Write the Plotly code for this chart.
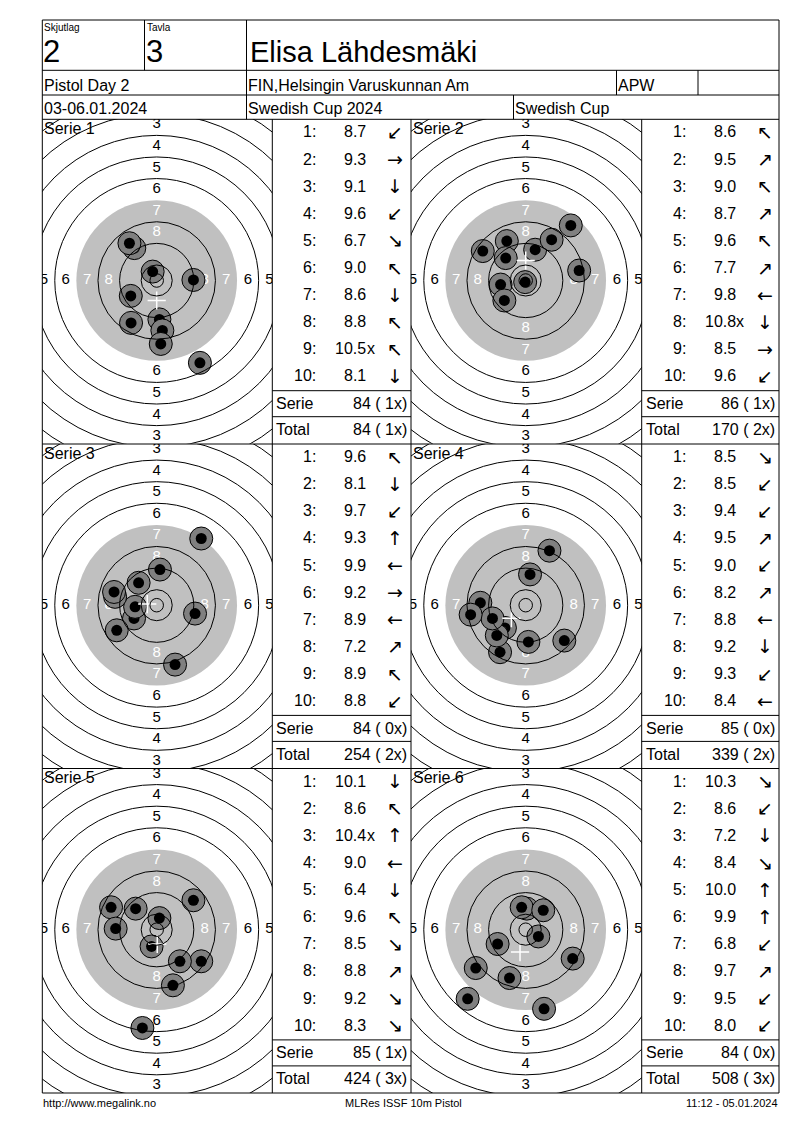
import plotly.graph_objects as go

# page header
relay_label, relay = "Skjutlag", "2"
lane_label, lane = "Tavla", "3"
shooter = "Elisa Lähdesmäki"
event = "Pistol Day 2"
club = "FIN,Helsingin Varuskunnan Am"
shooter_class = "APW"
dates = "03-06.01.2024"
competition = "Swedish Cup 2024"
cup = "Swedish Cup"
footer_left = "http://www.megalink.no"
footer_mid = "MLRes ISSF 10m Pistol"
footer_right = "11:12 - 05.01.2024"

# shots in firing order, mm from the centre (x right, y up)
s1_x = [-9.5, 13.6, 1.0, -9.6, 16.0, -8.3, 2.1, -10.1, -1.5, 1.5]
s1_y = [-15.7, 0.2, -14.4, -5.7, -30.5, 12.0, -18.5, 13.8, 3.3, -23.5]
s1_scores = ["8.7", "9.3", "9.1", "9.6", "6.7", "9.0", "8.6", "8.8", "10.5x", "8.1"]
s1_dirs = ["↙", "→", "↓", "↙", "↘", "↖", "↓", "↖", "↖", "↓"]

s2_x = [-15.9, 3.5, -7.0, 9.6, -7.4, 16.7, -9.3, -0.2, 19.8, -7.9]
s2_y = [10.9, 11.4, 14.6, 15.1, 8.3, 20.4, -1.5, -0.6, 3.7, -7.4]
s2_scores = ["8.6", "9.5", "9.0", "8.7", "9.6", "7.7", "9.8", "10.8x", "8.5", "9.6"]
s2_dirs = ["↖", "↗", "↖", "↗", "↖", "↗", "←", "↓", "→", "↙"]

s3_x = [-6.7, 6.8, -8.4, 1.2, -8.0, 14.2, -15.4, 16.5, -15.8, -14.8]
s3_y = [8.3, -22.0, -4.9, 13.2, -0.6, -3.1, 3.1, 24.7, 4.9, -9.3]
s3_scores = ["9.6", "8.1", "9.7", "9.3", "9.9", "9.2", "8.9", "7.2", "8.9", "8.8"]
s3_dirs = ["↖", "↓", "↙", "↑", "←", "→", "←", "↗", "↖", "↙"]

s4_x = [14.3, -9.5, -7.7, 1.6, -10.7, 8.8, -16.8, 1.0, -12.3, -20.4]
s4_y = [-13.1, -17.4, -8.4, 11.4, -11.2, 20.2, 0.9, -13.6, -4.9, -3.5]
s4_scores = ["8.5", "8.5", "9.4", "9.5", "9.0", "8.2", "8.8", "9.2", "9.3", "8.4"]
s4_dirs = ["↘", "↙", "↙", "↗", "↙", "↗", "←", "↓", "↙", "←"]

s5_x = [-1.9, -16.9, 1.0, -15.2, -5.3, -7.8, 16.5, 13.6, 8.6, 6.0]
s5_y = [-6.2, 8.3, 4.3, 0.4, -36.4, 7.8, -11.7, 10.9, -11.7, -20.6]
s5_scores = ["10.1", "8.6", "10.4x", "9.0", "6.4", "9.6", "8.5", "8.8", "9.2", "8.3"]
s5_dirs = ["↓", "↖", "↑", "←", "↓", "↖", "↘", "↗", "↘", "↘"]

s6_x = [4.7, -6.0, 6.8, 17.4, 0.4, -1.5, -21.5, 6.5, -10.4, -18.5]
s6_y = [-2.5, -17.9, -29.3, -10.7, 7.8, 8.3, -25.6, 7.2, -5.3, -14.2]
s6_scores = ["10.3", "8.6", "7.2", "8.4", "10.0", "9.9", "6.8", "9.7", "9.5", "8.0"]
s6_dirs = ["↘", "↙", "↓", "↘", "↑", "↑", "↙", "↗", "↙", "↙"]

# mean point of impact (white cross)
mpi_x = [0.0, 0.0, -3.5, -5.3, 0.2, -2.1]
mpi_y = [-7.4, 7.4, 0.4, -4.8, -5.3, -8.3]

serie_sum = [84, 86, 84, 85, 85, 84]
serie_inner = [1, 1, 0, 0, 1, 0]
total_sum = [84, 170, 254, 339, 424, 508]
total_inner = [1, 2, 2, 2, 3, 3]

# ISSF 10m air pistol target, outer ring radii in mm
ring_numbers = [10, 9, 8, 7, 6, 5, 4, 3, 2]
ring_radius = [5.75, 13.75, 21.75, 29.75, 37.75, 45.75, 53.75, 61.75, 69.75]
inner_ten = 2.5
label_rings = [3, 4, 5, 6, 7, 8]

series = [
    (s1_x, s1_y, s1_scores, s1_dirs),
    (s2_x, s2_y, s2_scores, s2_dirs),
    (s3_x, s3_y, s3_scores, s3_dirs),
    (s4_x, s4_y, s4_scores, s4_dirs),
    (s5_x, s5_y, s5_scores, s5_dirs),
    (s6_x, s6_y, s6_scores, s6_dirs),
]

# page geometry (browser pixels)
OFF = 8
W, H = 800 - 2 * OFF, 1130 - 2 * OFF - 2
FONT = "Liberation Sans, Arial, sans-serif"
SCALE = 2.7  # px per mm
LEFT, RIGHT, TOP = 42.3, 779.0, 20.0
row_tops = [119.3, 444.0, 768.5]
ROW_H = 324.5
tgt_x0 = [42.3, 411.0]
tgt_x1 = [272.3, 641.7]
tgt_cx = [156.7, 525.7]
CY = 161.2
tab_x1 = [411.0, 779.0]


def px(x):
    return (x - OFF) / W


def py(y):
    return 1 - (y - OFF) / H


shapes, annotations = [], []
LINE = dict(color="black", width=1)


def hline(y, x0, x1):
    shapes.append(dict(type="line", xref="paper", yref="paper", x0=px(x0), x1=px(x1),
                       y0=py(y), y1=py(y), line=LINE))


def vline(x, y0, y1):
    shapes.append(dict(type="line", xref="paper", yref="paper", x0=px(x), x1=px(x),
                       y0=py(y0), y1=py(y1), line=LINE))


def text(x, y, s, size=16, anchor="left", color="black", family=FONT):
    annotations.append(dict(xref="paper", yref="paper", x=px(x), y=py(y), text=s,
                            showarrow=False, xanchor=anchor, yanchor="middle",
                            borderpad=0, font=dict(size=size, color=color, family=family)))


bottom = row_tops[-1] + ROW_H

# frame and header grid
shapes.append(dict(type="rect", xref="paper", yref="paper", x0=px(LEFT), x1=px(RIGHT),
                   y0=py(bottom), y1=py(TOP), line=LINE))
for y in [70.3, 95.0, 119.3, row_tops[1], row_tops[2]]:
    hline(y, LEFT, RIGHT)
vline(144.5, TOP, 70.3)
vline(246.5, TOP, 119.3)
vline(616.5, 70.3, 95.0)
vline(698.0, 70.3, 95.0)
vline(513.5, 95.0, 119.3)
for x in [272.3, 411.0, 641.7]:
    vline(x, 119.3, bottom)

text(43, 27, relay_label, size=10)
text(146, 27, lane_label, size=10)
text(42, 52, relay, size=31)
text(145, 52, lane, size=31)
text(249, 52, shooter, size=29)
text(43, 85, event)
text(247, 85, club)
text(617, 85, shooter_class)
text(43, 108, dates)
text(247, 108, competition)
text(514, 108, cup)
text(LEFT, 1103, footer_left, size=11)
text(403, 1103, footer_mid, size=11, anchor="center")
text(RIGHT, 1103, footer_right, size=11, anchor="right")

fig = go.Figure()
layout_axes = {}

for k, (sx, sy, scores, dirs) in enumerate(series):
    row, col = divmod(k, 2)
    n = k + 1
    xa, ya = ("x", "y") if n == 1 else (f"x{n}", f"y{n}")
    top = row_tops[row]
    cyp = top + CY
    layout_axes["xaxis" if n == 1 else f"xaxis{n}"] = dict(
        domain=[px(tgt_x0[col]), px(tgt_x1[col])],
        range=[(tgt_x0[col] - tgt_cx[col]) / SCALE, (tgt_x1[col] - tgt_cx[col]) / SCALE],
        visible=False, fixedrange=True, anchor=ya)
    layout_axes["yaxis" if n == 1 else f"yaxis{n}"] = dict(
        domain=[py(top + ROW_H), py(top)],
        range=[-(top + ROW_H - cyp) / SCALE, (cyp - top) / SCALE],
        visible=False, fixedrange=True, anchor=xa)

    # black (grey) aiming area, then ring lines over the shots
    r7 = ring_radius[ring_numbers.index(7)]
    shapes.append(dict(type="circle", xref=xa, yref=ya, x0=-r7, x1=r7, y0=-r7, y1=r7,
                       fillcolor="#c0c0c0", line=dict(width=0), layer="below"))
    for num, r in zip(ring_numbers, ring_radius):
        if num == 7:
            continue
        shapes.append(dict(type="circle", xref=xa, yref=ya, x0=-r, x1=r, y0=-r, y1=r,
                           line=LINE, layer="above"))
    shapes.append(dict(type="circle", xref=xa, yref=ya, x0=-inner_ten, x1=inner_ten,
                       y0=-inner_ten, y1=inner_ten, line=LINE, layer="above"))

    # ring numbers
    lx, ly, lt, lc = [], [], [], []
    for num in label_rings:
        i = ring_numbers.index(num)
        mid = (ring_radius[i] + ring_radius[i - 1]) / 2
        colr = "white" if num >= 7 else "black"
        for dx, dy in [(0, 1), (0, -1)]:
            lx.append(dx * mid); ly.append(dy * mid); lt.append(str(num)); lc.append(colr)
        if num >= 5:
            for dx in (-1, 1):
                lx.append(dx * mid); ly.append(0); lt.append(str(num)); lc.append(colr)
    fig.add_trace(go.Scatter(x=lx, y=ly, text=lt, mode="text", xaxis=xa, yaxis=ya,
                             textfont=dict(size=15, color=lc, family=FONT),
                             cliponaxis=True, hoverinfo="skip"))

    # shots: grey disc then black centre, shot by shot
    mx, my, ms, mc = [], [], [], []
    for x, y in zip(sx, sy):
        mx += [x, x]; my += [y, y]
        ms += [23, 11]; mc += ["#808080", "black"]
    fig.add_trace(go.Scatter(x=mx, y=my, mode="markers", xaxis=xa, yaxis=ya,
                             marker=dict(size=ms, color=mc, opacity=1,
                                         line=dict(color="black", width=[1, 0] * len(sx))),
                             cliponaxis=True, hoverinfo="skip"))
    fig.add_trace(go.Scatter(x=[mpi_x[k]], y=[mpi_y[k]], mode="markers", xaxis=xa, yaxis=ya,
                             marker=dict(symbol="cross-thin", size=13,
                                         line=dict(color="white", width=1.5)),
                             hoverinfo="skip"))

    text(tgt_x0[col] + 1, top + 9, f"Serie {n}", size=16)

    # score table
    x0 = tgt_x1[col]
    for i, (s, d) in enumerate(zip(scores, dirs)):
        y = top + 12.7 + 27.1 * i
        text(x0 + 45, y, f"{i + 1}:", anchor="right")
        text(x0 + 95, y, s.rstrip("x"), anchor="right")
        if s.endswith("x"):
            text(x0 + 93.5, y, "x", anchor="left")
        text(x0 + 123, y, d, size=19, anchor="center", family="DejaVu Sans")
    hline(top + 271.4, x0, tab_x1[col])
    hline(top + 297.4, x0, tab_x1[col])
    text(x0 + 3, top + 284, "Serie")
    text(tab_x1[col] - 3, top + 284, f"{serie_sum[k]} ( {serie_inner[k]}x)", anchor="right")
    text(x0 + 3, top + 310, "Total")
    text(tab_x1[col] - 3, top + 310, f"{total_sum[k]} ( {total_inner[k]}x)", anchor="right")

fig.update_layout(
    width=W, height=H,
    margin=dict(l=0, r=0, t=0, b=0),
    paper_bgcolor="white", plot_bgcolor="white",
    showlegend=False,
    shapes=shapes, annotations=annotations,
    font=dict(family=FONT, color="black"),
    **layout_axes,
)

fig.write_html("out.html")
